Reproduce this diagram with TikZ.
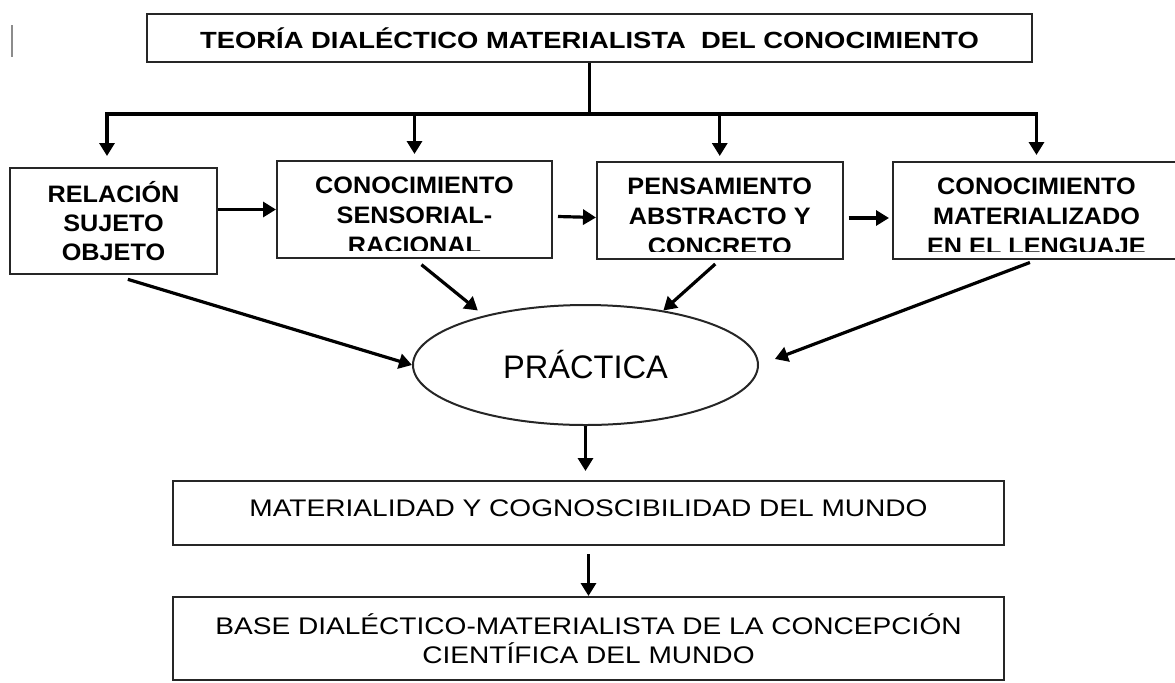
\documentclass[tikz,border=0pt]{standalone}
\usepackage{fontspec}
\setmainfont{Liberation Sans}
\newfontfamily\widefont[FakeStretch=1.17]{Liberation Sans}
\newfontfamily\boxfont[FakeStretch=1.06]{Liberation Sans}
\usetikzlibrary{arrows.meta,shapes.geometric,positioning}

\begin{document}
\begin{tikzpicture}[
        x=0.5pt, y=-0.5pt,
        frame/.style={rectangle, draw=black!85, line width=1pt, inner sep=0pt},
        title/.style={frame, minimum width=442.5pt, minimum height=24pt, font=\widefont\bfseries\fontsize{11.7}{14}\selectfont},
        stage/.style={frame, minimum height=48.5pt},
        stagetext/.style={anchor=north, inner sep=0pt, align=center, font=\boxfont\bfseries\fontsize{11.9}{15}\selectfont},
        wide/.style={frame, minimum width=415.5pt, align=center, font=\widefont\fontsize{12}{14.5}\selectfont},
        line/.style={draw=black, line width=1.6pt},
        arrow/.style={line, -{Triangle[length=6.5pt, width=7.5pt]}}
        ]
        \useasboundingbox (0,0) rectangle (1175,682);
        \clip (0,0) rectangle (1175,682);

        \draw[black!45, line width=0.6pt] (12,25) -- (12,57);

        \node[title]    (teoria)        at (589.5,38)       {TEORÍA DIALÉCTICO MATERIALISTA\ \ DEL CONOCIMIENTO};

        \node[frame, minimum width=103.5pt, minimum height=53pt, align=center,
              font=\boxfont\bfseries\fontsize{11.9}{14.65}\selectfont]
                        (relacion)      at (113.5,221)      {RELACIÓN\\SUJETO\\OBJETO};
        \node[stage, minimum width=137.5pt]  (sensorial)   at (414.5,209.5)  {};
        \node[stage, minimum width=122.75pt] (pensamiento) at (719.75,210.5) {};
        \node[stage, minimum width=143.5pt]  (lenguaje)    at (1036.5,210.5) {};

        % texts cut off by the lower edge of their boxes
        \begin{scope}
            \clip (sensorial.north west) rectangle ([yshift=4.5pt]sensorial.south east);
            \node[stagetext] (sensorialText) at ([yshift=-8pt]sensorial.north) {CONOCIMIENTO\\SENSORIAL-\\RACIONAL};
        \end{scope}
        \begin{scope}
            \clip (pensamiento.north west) rectangle ([yshift=4.5pt]pensamiento.south east);
            \node[stagetext] (pensamientoText) at ([yshift=-8pt]pensamiento.north) {PENSAMIENTO\\ABSTRACTO Y\\CONCRETO};
        \end{scope}
        \begin{scope}
            \clip (lenguaje.north west) rectangle ([yshift=4.5pt]lenguaje.south east);
            \node[stagetext] (lenguajeText) at ([yshift=-8pt]lenguaje.north) {CONOCIMIENTO\\MATERIALIZADO\\EN EL LENGUAJE};
        \end{scope}

        \node[ellipse, draw=black!85, line width=1pt, minimum width=172.5pt, minimum height=60pt, inner sep=0pt,
              font=\fontsize{16.3}{18}\selectfont]
                        (practica)      at (585.5,365)      {PRÁCTICA};

        \node[wide, minimum height=32pt, text depth=4.5pt] (mundo) at (588.5,513) {MATERIALIDAD Y COGNOSCIBILIDAD DEL MUNDO};
        \node[wide, minimum height=41.5pt] (base) at (588.5,638.5) {BASE DIALÉCTICO-MATERIALISTA DE LA CONCEPCIÓN\\CIENTÍFICA DEL MUNDO};

        %Lines
        \coordinate (bar) at (589.5,114);
        \draw[line] (teoria.south) -- (bar);
        \draw[arrow] (bar) -| ([xshift=-3.25pt, yshift=5.5pt]relacion.north);
        \draw[arrow] (bar) -| ([yshift=3pt]sensorial.north);
        \draw[arrow] (bar) -| ([yshift=2.5pt]pensamiento.north);
        \draw[arrow] (bar) -| ([yshift=3pt]lenguaje.north);

        \draw[arrow] (relacion.east |- sensorial) -- (sensorial.west);
        \draw[arrow] ([xshift=2.5pt, yshift=-3.5pt]sensorial.east) -- ([yshift=-3.5pt]pensamiento.west);
        \draw[arrow, shorten >=1.5pt] ([xshift=2.5pt, yshift=-3.75pt]pensamiento.east) -- ([yshift=-3.75pt]lenguaje.west);

        \draw[arrow, shorten <=7.5pt] (relacion.south) -- (practica.west);
        \draw[arrow, shorten <=4.5pt, shorten >=4pt] (sensorial.south) -- (practica.154);
        \draw[arrow, shorten <=3pt] (pensamiento.south) -- (practica.35);
        \draw[arrow, shorten <=3.5pt, shorten >=8.5pt] (lenguaje.south) -- (practica.east);

        \draw[arrow, shorten >=4.5pt] (practica.south) -- (practica.south |- mundo.north);
        \draw[arrow] ([yshift=-4pt]mundo.south) -- (base.north);

    \end{tikzpicture}
\end{document}
